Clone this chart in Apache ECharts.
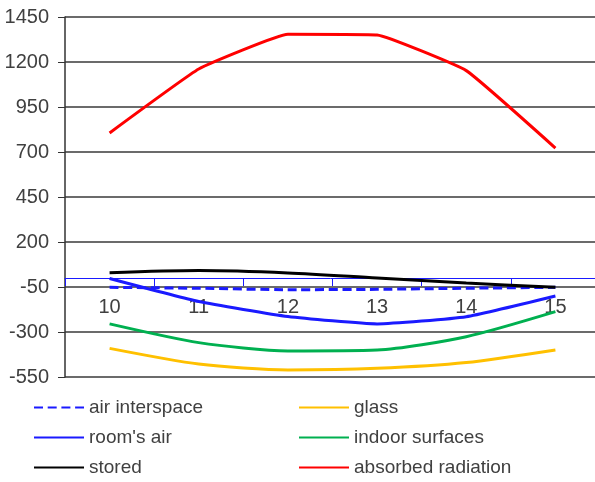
<!DOCTYPE html>
<html>
<head>
<meta charset="utf-8">
<script src="https://cdn.jsdelivr.net/npm/echarts@6/dist/echarts.min.js"></script>
<style>
  html, body { margin: 0; padding: 0; background: #fff; }
  #chart { width: 595px; height: 482px; }
</style>
</head>
<body>
<div id="chart"></div>
<script>
// hours of the day
var hours = ['10', '11', '12', '13', '14', '15'];

// heat flows
var airInterspace = [-52, -57, -65, -63, -57, -52];
var glass = [-391, -478, -511, -502, -470, -400];
var roomsAir = [-3, -131, -214, -255, -215, -100];
var indoorSurfaces = [-255, -359, -405, -400, -326, -187];
var stored = [29, 41, 28, 0, -28, -52];
var absorbedRadiation = [806, 1161, 1354, 1350, 1152, 722];

var yMin = -550, yMax = 1450, yStep = 250;

var font = 'Liberation Sans';
var textColor = '#404040';

var chart = echarts.init(document.getElementById('chart'));

function line(name, data, color, dashed, smooth) {
  return {
    name: name,
    type: 'line',
    data: data,
    symbol: 'none',
    smooth: smooth,
    lineStyle: { color: color, width: 3, type: dashed ? [9, 4.7] : 'solid' },
    itemStyle: { color: color }
  }
}

// one legend per entry so the two columns line up like the original
function legendAt(name, left, top) {
  return {
    data: [name],
    left: left,
    top: top,
    padding: 0,
    itemWidth: 50,
    itemHeight: 14,
    selectedMode: false,
    itemStyle: { opacity: 0 },   // line only, no marker
    textStyle: { fontFamily: font, fontSize: 19, color: textColor }
  }
}

chart.setOption({
  animation: false,
  grid: {
    left: 65,
    top: 17,
    width: 535,
    bottom: 105,
    outerBoundsMode: 'none'
  },
  legend: [
    legendAt('air interspace', 33, 398),
    legendAt('glass', 298, 398),
    legendAt("room's air", 33, 428),
    legendAt('indoor surfaces', 298, 428),
    legendAt('stored', 33, 458),
    legendAt('absorbed radiation', 298, 458)
  ],
  xAxis: {
    type: 'category',
    data: hours,
    position: 'bottom',
    // sit the axis on the zero line: (0 - yMin) / (yMax - yMin) of 360px
    offset: -99,
    axisLine: { onZero: false, lineStyle: { color: '#1a1aff', width: 1 } },
    axisTick: { show: true, length: 8, lineStyle: { color: '#1a1aff' } },
    axisLabel: { margin: 19, fontFamily: font, fontSize: 20, color: textColor },
    z: 1
  },
  yAxis: {
    type: 'value',
    min: yMin,
    max: yMax,
    interval: yStep,
    axisLine: { show: true, onZero: false, lineStyle: { color: '#333', width: 1.5 } },
    axisTick: { show: true, length: 7, lineStyle: { color: '#333' } },
    axisLabel: {
      margin: 16, fontFamily: font, fontSize: 20, color: textColor,
      formatter: function (v) { return String(v); }
    },
    splitLine: { lineStyle: { color: '#3a3a3a', width: 1.5 } }
  },
  series: [
    line('air interspace', airInterspace, '#1a1aff', true, 0.2),
    line('glass', glass, '#ffc000', false, 0.25),
    line("room's air", roomsAir, '#1a1aff', false, 0.15),
    line('indoor surfaces', indoorSurfaces, '#00b050', false, 0.25),
    line('stored', stored, '#000000', false, 0.3),
    line('absorbed radiation', absorbedRadiation, '#ff0000', false, 0.1)
  ]
});
</script>
</body>
</html>
